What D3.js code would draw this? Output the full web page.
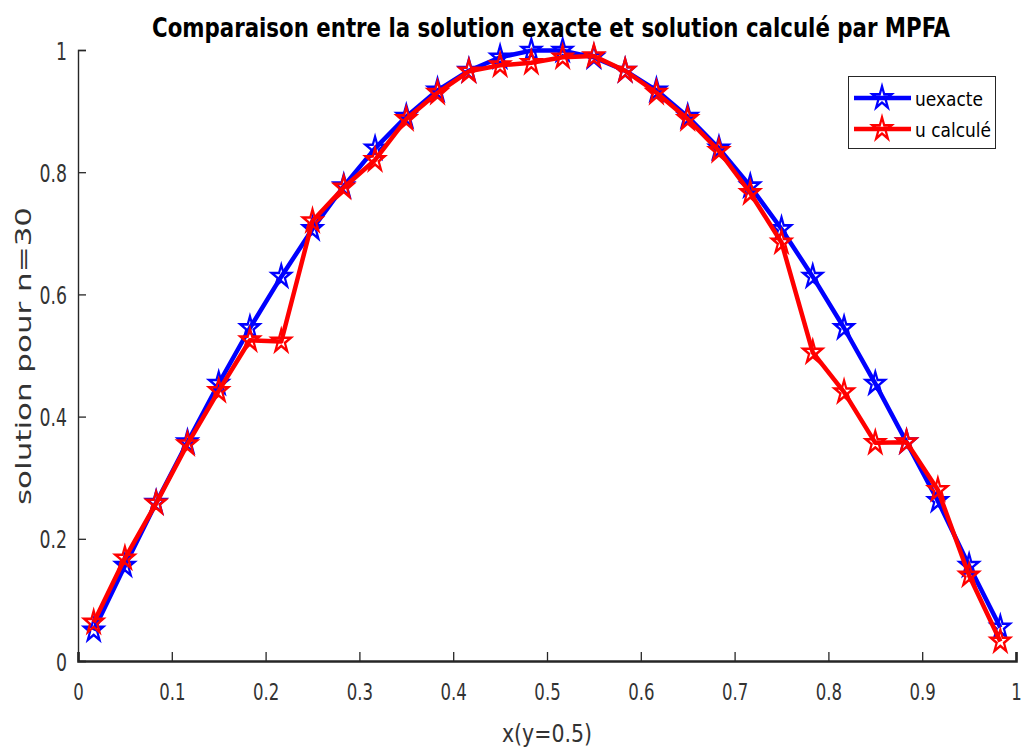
<!DOCTYPE html>
<html>
<head>
<meta charset="utf-8">
<script src="https://cdn.jsdelivr.net/npm/d3@7"></script>
<style>
  html, body { margin: 0; padding: 0; background: #fff; }
  svg { display: block; }
</style>
</head>
<body>
<svg id="chart" width="1024" height="753"></svg>
<script>
// Cell centres along the line y = 0.5 (n = 30)
const xs = [0.0167, 0.05, 0.0833, 0.1167, 0.15, 0.1833, 0.2167, 0.25, 0.2833, 0.3167,
            0.35, 0.3833, 0.4167, 0.45, 0.4833, 0.5167, 0.55, 0.5833, 0.6167, 0.65,
            0.6833, 0.7167, 0.75, 0.7833, 0.8167, 0.85, 0.8833, 0.9167, 0.95, 0.9833];

// Exact solution
const uexacte = [0.050, 0.156, 0.259, 0.358, 0.454, 0.545, 0.629, 0.707, 0.777, 0.839,
                 0.891, 0.934, 0.966, 0.988, 0.999, 0.999, 0.988, 0.966, 0.934, 0.891,
                 0.839, 0.777, 0.707, 0.629, 0.545, 0.454, 0.358, 0.262, 0.156, 0.055];

// MPFA solution
const ucalcule = [0.063, 0.168, 0.258, 0.355, 0.442, 0.525, 0.523, 0.720, 0.775, 0.820,
                  0.887, 0.930, 0.965, 0.975, 0.979, 0.988, 0.990, 0.966, 0.930, 0.887,
                  0.835, 0.766, 0.685, 0.505, 0.440, 0.357, 0.358, 0.280, 0.140, 0.032];

const xTicks = [0, 0.1, 0.2, 0.3, 0.4, 0.5, 0.6, 0.7, 0.8, 0.9, 1];
const yTicks = [0, 0.2, 0.4, 0.6, 0.8, 1];

const series = [
  { name: "uexacte", values: uexacte, color: "#0000ff" },
  { name: "u calculé", values: ucalcule, color: "#ff0000" }
];

const svg = d3.select("#chart");
const plot = { left: 78, right: 1016, top: 50, bottom: 661 };

const x = d3.scaleLinear().domain([0, 1]).range([plot.left, plot.right]);
const y = d3.scaleLinear().domain([0, 1]).range([plot.bottom, plot.top]);

const FONT = "'DejaVu Sans Condensed', 'DejaVu Sans', sans-serif";
const axisColor = "#262626";

// Axes: ticks point inward, no box
const xAxis = d3.axisBottom(x).tickValues(xTicks).tickSize(-9).tickPadding(0)
  .tickFormat(d => d3.format("")(d));
const yAxis = d3.axisLeft(y).tickValues(yTicks).tickSize(-8).tickPadding(0)
  .tickFormat(d => d3.format("")(d));

const gx = svg.append("g").attr("transform", `translate(0,${plot.bottom})`).call(xAxis);
const gy = svg.append("g").attr("transform", `translate(${plot.left},0)`).call(yAxis);

[gx, gy].forEach(g => {
  g.select(".domain").attr("stroke", axisColor);
  g.selectAll(".tick line").attr("stroke", axisColor).attr("stroke-width", 1.3);
  g.selectAll(".tick text").remove();
});
gx.select(".domain").attr("stroke-width", 2.6);
gy.select(".domain").attr("stroke-width", 1.4);

// Tick labels, narrow and tall like the rest of the figure
const labelSX = 0.8;
gx.selectAll(".tick").append("text")
  .attr("transform", `translate(0,39) scale(${labelSX},1)`)
  .attr("text-anchor", "middle")
  .attr("fill", "#333")
  .attr("font-family", FONT)
  .attr("font-size", 23)
  .text(d => d3.format("")(d));

gy.selectAll(".tick").append("text")
  .attr("transform", `translate(-11,9) scale(${labelSX},1)`)
  .attr("text-anchor", "end")
  .attr("fill", "#333")
  .attr("font-family", FONT)
  .attr("font-size", 24)
  .text(d => d3.format("")(d));

// Series lines
const line = d3.line().x((d, i) => x(xs[i])).y(d => y(d));

const star = d3.symbol().type(d3.symbolStar).size(155);

series.forEach(s => {
  svg.append("path")
    .datum(s.values)
    .attr("fill", "none")
    .attr("stroke", s.color)
    .attr("stroke-width", 4.5)
    .attr("stroke-linejoin", "round")
    .attr("d", line);

  svg.append("g").selectAll("path")
    .data(s.values)
    .join("path")
    .attr("transform", (d, i) => `translate(${x(xs[i])},${y(d)}) scale(0.85,1)`)
    .attr("d", star)
    .attr("fill", "none")
    .attr("stroke", s.color)
    .attr("stroke-width", 2.6);
});

// Title
svg.append("text")
  .attr("x", 551).attr("y", 37)
  .attr("text-anchor", "middle")
  .attr("font-family", FONT)
  .attr("font-weight", "bold")
  .attr("font-size", 26)
  .attr("fill", "#000")
  .attr("textLength", 798)
  .attr("lengthAdjust", "spacingAndGlyphs")
  .text("Comparaison entre la solution exacte et solution calculé par MPFA");

// Axis titles
svg.append("text")
  .attr("x", 547).attr("y", 742)
  .attr("text-anchor", "middle")
  .attr("font-family", FONT)
  .attr("font-size", 25)
  .attr("fill", "#333")
  .attr("textLength", 90)
  .attr("lengthAdjust", "spacingAndGlyphs")
  .text("x(y=0.5)");

svg.append("text")
  .attr("transform", "translate(31,356) rotate(-90)")
  .attr("text-anchor", "middle")
  .attr("font-family", "'DejaVu Sans', sans-serif")
  .attr("font-size", 22)
  .attr("fill", "#333")
  .attr("textLength", 298)
  .attr("lengthAdjust", "spacingAndGlyphs")
  .text("solution pour n=30");

// Legend
const legend = svg.append("g");
legend.append("rect")
  .attr("x", 848.5).attr("y", 76.5).attr("width", 147).attr("height", 72)
  .attr("fill", "#fff").attr("stroke", axisColor).attr("stroke-width", 1);

const rowY = [98, 129];
const legendText = [68, 76];
series.forEach((s, i) => {
  const g = legend.append("g").attr("transform", `translate(0,${rowY[i]})`);
  g.append("line")
    .attr("x1", 854).attr("x2", 911).attr("y1", 0).attr("y2", 0)
    .attr("stroke", s.color).attr("stroke-width", 4.5);
  g.append("path")
    .attr("transform", "translate(882,0) scale(0.85,1)")
    .attr("d", star)
    .attr("fill", "none")
    .attr("stroke", s.color)
    .attr("stroke-width", 2.6);
  g.append("text")
    .attr("x", 915).attr("y", 8)
    .attr("font-family", FONT)
    .attr("font-size", 20)
    .attr("fill", "#000")
    .attr("textLength", legendText[i])
    .attr("lengthAdjust", "spacingAndGlyphs")
    .text(s.name);
});
</script>
</body>
</html>
